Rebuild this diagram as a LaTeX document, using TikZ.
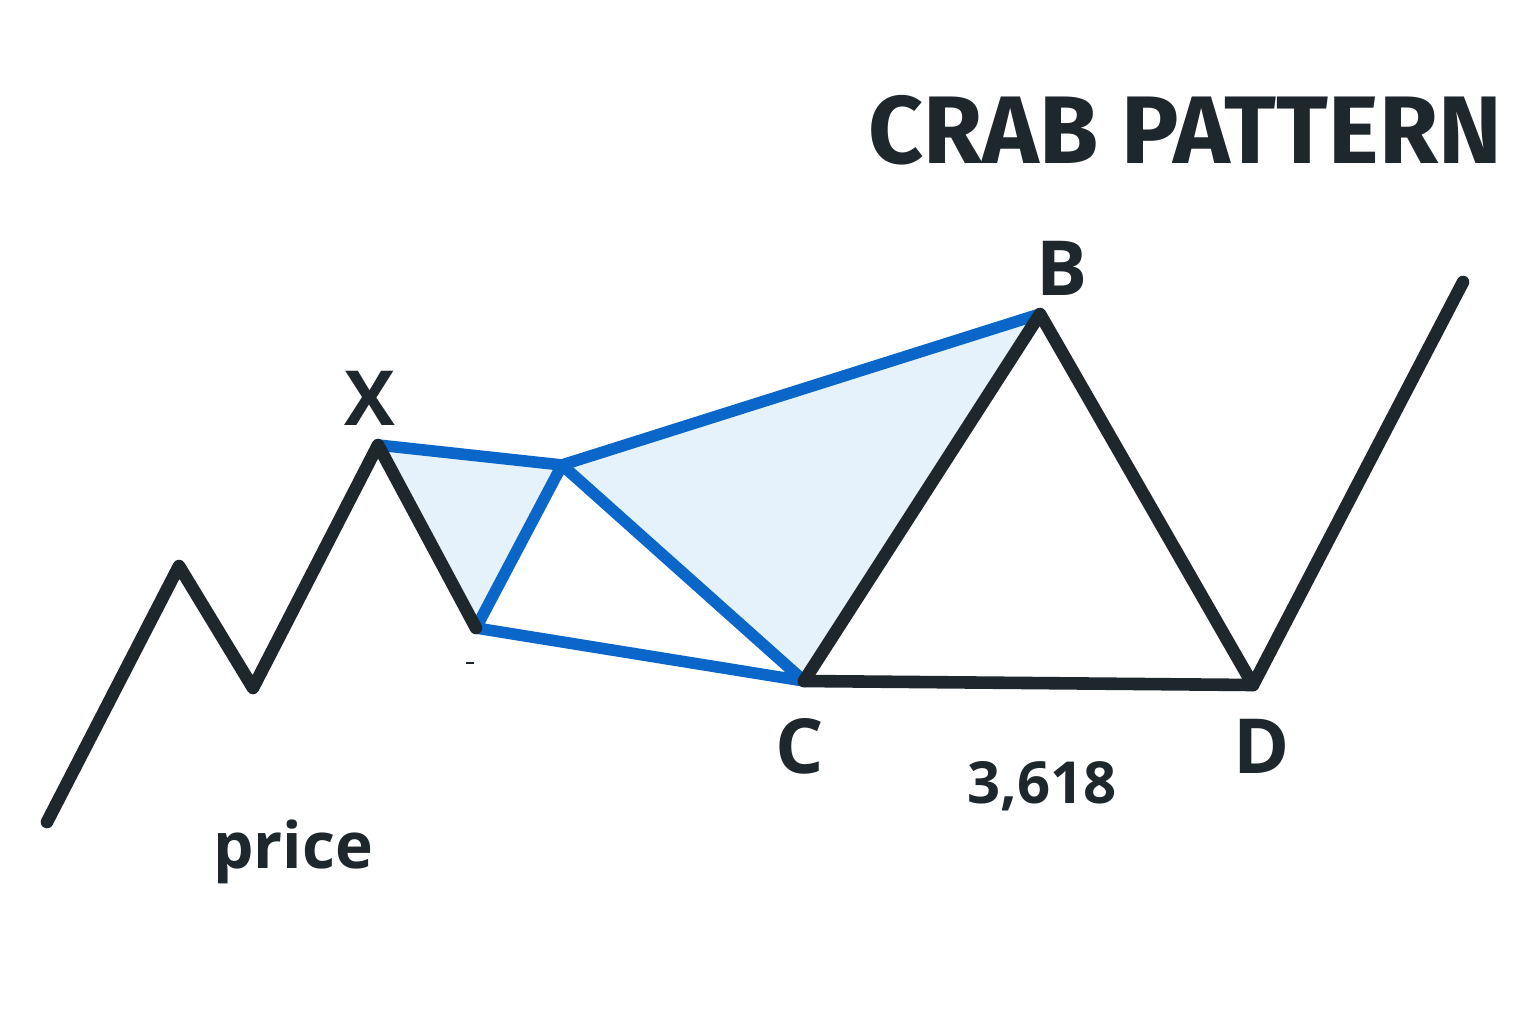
\documentclass[tikz,border=0pt]{standalone}
\usepackage{fontspec}
\setmainfont{Open Sans}
\newfontfamily\titlefont{Fira Sans}
\definecolor{ink}{HTML}{1E272C}
\definecolor{bl}{HTML}{0A66C8}
\definecolor{fl}{HTML}{E6F2FB}
\begin{document}
\begin{tikzpicture}[x=0.5pt,y=-0.5pt,
  blk/.style={draw=ink,line width=6.3pt,line join=round,line cap=round},
  blu/.style={draw=bl,line width=5.8pt,line join=round,line cap=round},
  lab/.style={text=ink,font=\fontsize{38}{38}\selectfont\bfseries,anchor=base,inner sep=0pt}]
\useasboundingbox (0,0) rectangle (1536,1024);
\fill[white] (0,0) rectangle (1536,1024);
% points
\coordinate (P0) at (47,822);
\coordinate (P1) at (179,566);
\coordinate (P2) at (253,688);
\coordinate (X) at (378,445);
\coordinate (A) at (476,628);
\coordinate (M) at (562,465);
\coordinate (B) at (1040,314);
\coordinate (C) at (804,681);
\coordinate (D) at (1253,685);
\coordinate (E) at (1463,282);
% fills
\fill[fl] (X) -- (M) -- (A) -- cycle;
\fill[fl] (M) -- (B) -- (C) -- cycle;
% blue lines
\draw[blu] (X) -- (M) -- (B);
\draw[blu] (M) -- (A) -- (C) -- (M);
% black lines
\draw[blk] (P0) -- (P1) -- (P2) -- (X) -- (A);
\draw[blk] (C) -- (B) -- (D) -- (E);
\draw[blk] (C) -- (D);
\draw[ink,line width=0.8pt] (466,663) -- (474,663);
% labels
\node[text=ink,font=\titlefont\fontsize{48}{48}\selectfont\bfseries,anchor=base,inner sep=0pt] (title) at (1185,163) {CRAB PATTERN};
\node[lab] (lB) at (1062,295) {B};
\node[lab] (lX) at (370,425) {X};
\node[lab] (lC) at (800,773) {C};
\node[lab] (lD) at (1262,773) {D};
\node[lab,font=\fontsize{29}{29}\selectfont\bfseries] (num) at (1042,803) {3,618};
\node[lab,font=\fontsize{32}{32}\selectfont\bfseries] (price) at (293,868) {price};
\end{tikzpicture}
\end{document}
